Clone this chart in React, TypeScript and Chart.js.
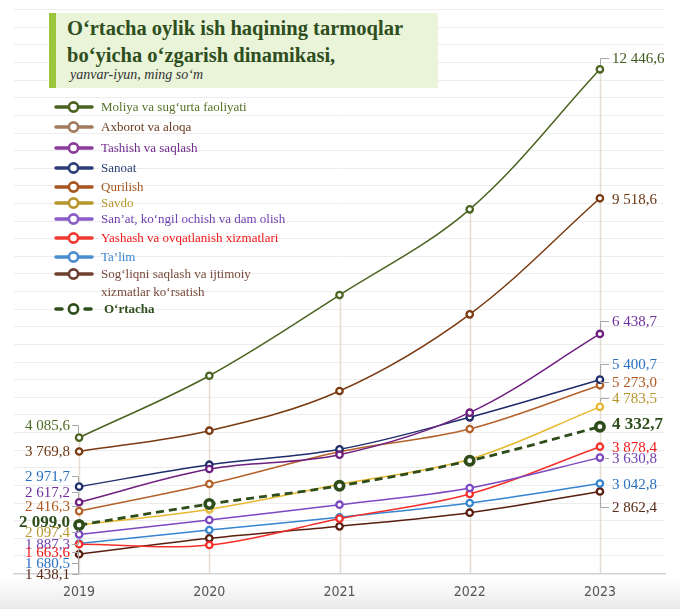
import React, { useEffect, useRef } from "react";
import { Chart, registerables } from "chart.js";

Chart.register(...registerables);

// Years on the horizontal axis
const years = [2019, 2020, 2021, 2022, 2023];

// Average monthly wage by sector, January–June, thousand so‘m
const moliya = [4085.6, 5490, 7322, 9268, 12446.6];
const axborot = [3769.8, 4242, 5143, 6884, 9518.6];
const tashish = [2617.2, 3372, 3697, 4651, 6438.7];
const sanoat = [2971.7, 3470, 3820, 4546, 5400.7];
const qurilish = [2416.3, 3032, 3765, 4280, 5273.0];
const savdo = [2097.4, 2457, 3025, 3593, 4783.5];
const sanat = [1887.3, 2215, 2562, 2941, 3630.8];
const yashash = [1663.6, 1647, 2245, 2805, 3878.4];
const talim = [1680.5, 1988, 2276, 2600, 3042.8];
const sogliq = [1438.1, 1799, 2071, 2380, 2862.4];
const ortacha = [2099.0, 2578, 2990, 3561, 4332.7];

// Legend names
const legendNames: string[][] = [
  ["Moliya va sug‘urta faoliyati"],
  ["Axborot va aloqa"],
  ["Tashish va saqlash"],
  ["Sanoat"],
  ["Qurilish"],
  ["Savdo"],
  ["San’at, ko‘ngil ochish va dam olish"],
  ["Yashash va ovqatlanish xizmatlari"],
  ["Ta’lim"],
  ["Sog‘liqni saqlash va ijtimoiy", "xizmatlar ko‘rsatish"],
  ["O‘rtacha"],
];

// Y axis range and grid step
const yMin = 1000;
const yMax = 13800;
const yStep = 400;

type Series = {
  data: number[];
  line: string;
  legendLine: string;
  text: string;
  labelL: string;
  labelR: string;
  dyL: number;
  dyR: number;
  leadL: boolean;
  leadR: boolean;
  bold?: boolean;
  dashed?: boolean;
};

const series: Series[] = [
  { data: moliya, line: "#4b6320", legendLine: "#4b6320", text: "#557326", labelL: "#4e6b23", labelR: "#3e5a1c", dyL: -13, dyR: -11, leadL: true, leadR: true },
  { data: axborot, line: "#7a3a12", legendLine: "#a27a5e", text: "#6b3a20", labelL: "#6b3510", labelR: "#6b3510", dyL: 0, dyR: 1, leadL: false, leadR: false },
  { data: tashish, line: "#6e1f80", legendLine: "#8a3c9a", text: "#702a8a", labelL: "#7030a0", labelR: "#7030a0", dyL: -10, dyR: -13, leadL: true, leadR: true },
  { data: sanoat, line: "#1f2d6b", legendLine: "#2a3f78", text: "#2a3f78", labelL: "#2a70c0", labelR: "#2a70c0", dyL: -10.5, dyR: -16, leadL: true, leadR: true },
  { data: qurilish, line: "#b5612a", legendLine: "#a8561e", text: "#a8561e", labelL: "#b0561e", labelR: "#b0561e", dyL: -5, dyR: -3.5, leadL: true, leadR: true },
  { data: savdo, line: "#e8b832", legendLine: "#b8962e", text: "#b8962e", labelL: "#b8962e", labelR: "#b8962e", dyL: 7, dyR: -8.5, leadL: true, leadR: true },
  { data: sanat, line: "#7b48c0", legendLine: "#8a5cc8", text: "#7040b0", labelL: "#7040b0", labelR: "#7040b0", dyL: 9.5, dyR: 0.7, leadL: true, leadR: true },
  { data: yashash, line: "#f5302a", legendLine: "#f03a30", text: "#f01818", labelL: "#f01818", labelR: "#f01818", dyL: 8, dyR: 0, leadL: true, leadR: false },
  { data: talim, line: "#3585d0", legendLine: "#4a8ed0", text: "#3a86d0", labelL: "#2a70c0", labelR: "#2a70c0", dyL: 19.5, dyR: 0.8, leadL: true, leadR: false },
  { data: sogliq, line: "#5a1e0e", legendLine: "#6e4030", text: "#7a4a3a", labelL: "#5a2a18", labelR: "#5a2a18", dyL: 20, dyR: 16, leadL: true, leadR: true },
  { data: ortacha, line: "#2e4d1a", legendLine: "#2e4d1a", text: "#2e4d1a", labelL: "#2e4d1a", labelR: "#2e4d1a", dyL: -3, dyR: -3.4, leadL: false, leadR: false, bold: true, dashed: true },
];

const legendRows = [107, 127, 148, 168, 187, 203, 219, 238, 257, 274, 309];

const SERIF = "'Liberation Serif', 'Times New Roman', serif";

function fmt(v: number): string {
  const [i, d] = v.toFixed(1).split(".");
  return i.replace(/\B(?=(\d{3})+(?!\d))/g, " ") + "," + d;
}

const overlay = {
  id: "overlay",
  beforeDatasetsDraw(chart: any) {
    const { ctx, chartArea, scales } = chart;
    const x = scales.x;
    const y = scales.y;
    ctx.save();
    ctx.strokeStyle = "#e4dbd2";
    ctx.lineWidth = 1.5;
    years.forEach((yr, i) => {
      const top = Math.max(...series.map((s) => s.data[i]));
      const px = Math.round(x.getPixelForValue(yr)) + 0.5;
      ctx.beginPath();
      ctx.moveTo(px, y.getPixelForValue(top));
      ctx.lineTo(px, chartArea.bottom);
      ctx.stroke();
    });
    ctx.restore();
  },
  afterDatasetsDraw(chart: any) {
    const { ctx, scales } = chart;
    const x = scales.x;
    const y = scales.y;
    ctx.save();

    // End-point value labels with leader lines
    const xl = x.getPixelForValue(years[0]);
    const xr = x.getPixelForValue(years[years.length - 1]);
    const last = years.length - 1;
    series.forEach((s) => {
      const font = s.bold ? `bold 17px ${SERIF}` : `15px ${SERIF}`;
      ctx.font = font;
      ctx.textBaseline = "middle";

      // left side
      const pyL = y.getPixelForValue(s.data[0]);
      const lyL = pyL + s.dyL;
      ctx.fillStyle = s.labelL;
      ctx.textAlign = "right";
      ctx.fillText(fmt(s.data[0]), 70, lyL + 1);
      if (s.leadL) {
        ctx.strokeStyle = "#a8a8a8";
        ctx.lineWidth = 1;
        ctx.beginPath();
        ctx.moveTo(72, Math.round(lyL) + 0.5);
        ctx.lineTo(Math.round(xl) - 0.5, Math.round(lyL) + 0.5);
        const edge = lyL < pyL ? pyL - 4.5 : pyL + 4.5;
        ctx.lineTo(Math.round(xl) - 0.5, edge);
        ctx.stroke();
      }

      // right side
      const pyR = y.getPixelForValue(s.data[last]);
      const lyR = pyR + s.dyR;
      ctx.fillStyle = s.labelR;
      ctx.textAlign = "left";
      ctx.fillText(fmt(s.data[last]), 612, lyR + 1);
      if (s.leadR) {
        ctx.strokeStyle = "#a8a8a8";
        ctx.lineWidth = 1;
        ctx.beginPath();
        if (Math.abs(s.dyR) < 3) {
          ctx.moveTo(xr + 5, Math.round(lyR) + 0.5);
          ctx.lineTo(609, Math.round(lyR) + 0.5);
        } else {
          const edge = lyR < pyR ? pyR - 4.5 : pyR + 4.5;
          ctx.moveTo(Math.round(xr) + 0.5, edge);
          ctx.lineTo(Math.round(xr) + 0.5, Math.round(lyR) + 0.5);
          ctx.lineTo(609, Math.round(lyR) + 0.5);
        }
        ctx.stroke();
      }
    });

    // Legend
    series.forEach((s, i) => {
      const ry = legendRows[i];
      ctx.strokeStyle = s.legendLine;
      ctx.lineCap = "round";
      ctx.lineWidth = 3.5;
      ctx.beginPath();
      if (s.dashed) {
        ctx.moveTo(56, ry);
        ctx.lineTo(62, ry);
        ctx.moveTo(85, ry);
        ctx.lineTo(91, ry);
      } else {
        ctx.moveTo(56, ry);
        ctx.lineTo(92, ry);
      }
      ctx.stroke();
      ctx.lineCap = "butt";
      ctx.beginPath();
      ctx.arc(73.5, ry, 4.6, 0, Math.PI * 2);
      ctx.fillStyle = "#ffffff";
      ctx.fill();
      ctx.lineWidth = 2.6;
      ctx.stroke();

      ctx.fillStyle = s.text;
      ctx.textAlign = "left";
      ctx.textBaseline = "middle";
      ctx.font = s.bold ? `bold 13px ${SERIF}` : `13px ${SERIF}`;
      const tx = s.bold ? 104 : 101;
      legendNames[i].forEach((t, k) => {
        ctx.fillText(t, tx, ry + 1 + k * 17.5);
      });
    });

    ctx.restore();
  },
};

export default function App() {
  const ref = useRef<HTMLCanvasElement | null>(null);

  useEffect(() => {
    document.body.style.margin = "0";
    const canvas = ref.current;
    if (!canvas) return;

    const datasets = series.map((s) => ({
      data: years.map((yr, i) => ({ x: yr, y: s.data[i] })),
      borderColor: s.line,
      backgroundColor: "#ffffff",
      borderWidth: s.dashed ? 2.8 : 1.5,
      borderDash: s.dashed ? [8, 5] : [],
      tension: 0.35,
      pointRadius: s.dashed ? 4.2 : 3.2,
      pointBorderWidth: s.dashed ? 3.6 : 2.3,
      pointBackgroundColor: "#ffffff",
      pointBorderColor: s.line,
      fill: false,
    }));
    // the average line is drawn on top
    const ordered = [datasets[datasets.length - 1], ...datasets.slice(0, -1)];

    const chart = new Chart(canvas, {
      type: "line",
      data: { datasets: ordered as any },
      options: {
        responsive: false,
        animation: false,
        layout: { padding: { left: 14, right: 15, top: 9.7, bottom: 0 } },
        plugins: { legend: { display: false }, tooltip: { enabled: false } },
        scales: {
          x: {
            type: "linear",
            min: 2018.5,
            max: 2023.5,
            afterBuildTicks: (sc: any) => {
              sc.ticks = years.map((v) => ({ value: v }));
            },
            afterFit: (sc: any) => {
              sc.height = 35.5;
            },
            grid: { display: false, drawTicks: false },
            border: { display: true, color: "#d2d2d2", width: 1.5 },
            ticks: {
              padding: 10,
              color: "#555555",
              font: { family: "'DejaVu Sans Condensed', 'Liberation Sans Narrow', 'DejaVu Sans', sans-serif", size: 14 },
              callback: (v: any) => String(v),
            },
          },
          y: {
            type: "linear",
            min: yMin,
            max: yMax,
            afterBuildTicks: (sc: any) => {
              const t = [];
              for (let v = yMin; v <= yMax; v += yStep) t.push({ value: v });
              sc.ticks = t;
            },
            afterFit: (sc: any) => {
              sc.width = 0;
            },
            grid: { color: "#ededed", lineWidth: 1, drawTicks: false },
            border: { display: false },
            ticks: { display: false },
          },
        },
      },
      plugins: [overlay],
    });

    return () => chart.destroy();
  }, []);

  return (
    <div
      style={{
        position: "relative",
        width: 680,
        height: 609,
        overflow: "hidden",
        background: "linear-gradient(to bottom, #ffffff 0px, #ffffff 576px, #f3f3f3 596px, #e9e9e9 609px)",
      }}
    >
      <canvas ref={ref} width={680} height={609} style={{ display: "block", position: "absolute", left: 0, top: 0 }} />
      <div
        style={{
          position: "absolute",
          left: 49,
          top: 13,
          width: 382,
          height: 75,
          background: "#eaf4d8",
          borderLeft: "7px solid #9cc43c",
          fontFamily: SERIF,
          color: "#2e4e1e",
        }}
      >
        <div style={{ position: "absolute", left: 11, top: 2.3, whiteSpace: "nowrap", fontSize: 20.5, lineHeight: "26px", fontWeight: "bold" }}>
          O‘rtacha oylik ish haqining tarmoqlar
        </div>
        <div style={{ position: "absolute", left: 11, top: 28.9, whiteSpace: "nowrap", fontSize: 20.5, lineHeight: "26px", fontWeight: "bold" }}>
          bo‘yicha o‘zgarish dinamikasi,
        </div>
        <div style={{ position: "absolute", left: 14, top: 53.3, whiteSpace: "nowrap", fontSize: 14, lineHeight: "18px", fontStyle: "italic", color: "#333333" }}>
          yanvar-iyun, ming so‘m
        </div>
      </div>
    </div>
  );
}
